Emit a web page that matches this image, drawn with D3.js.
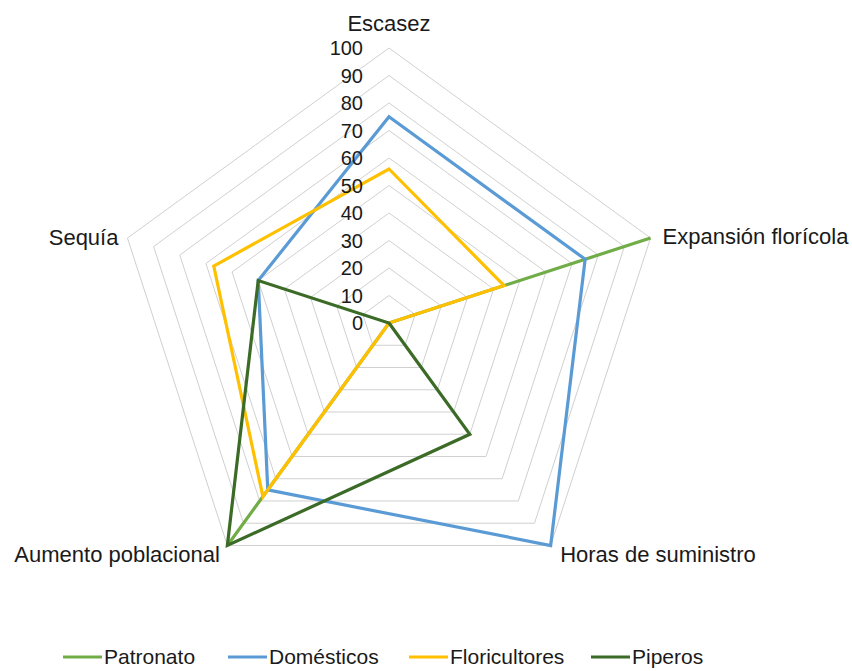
<!DOCTYPE html>
<html>
<head>
<meta charset="utf-8">
<script src="https://cdn.jsdelivr.net/npm/d3@7"></script>
<style>
  html, body { margin: 0; padding: 0; background: #fff; }
  svg { display: block; }
  text { font-family: "Liberation Sans", Arial, sans-serif; fill: #1a1a1a; }
</style>
</head>
<body>
<svg id="chart" width="852" height="671"></svg>
<script>
const categories = ["Escasez", "Expansión florícola", "Horas de suministro", "Aumento poblacional", "Sequía"];
const seriesNames = ["Patronato", "Domésticos", "Floricultores", "Piperos"];
const patronato = [0, 100, 0, 100, 0];
const domesticos = [75, 75, 100, 75, 50];
const floricultores = [56, 44, 0, 78, 67];
const piperos = [0, 0, 50, 100, 50];
const tickValues = [0, 10, 20, 30, 40, 50, 60, 70, 80, 90, 100];
const colors = ["#70AD47", "#5B9BD5", "#FFC000", "#3B6B26"];

const seriesValues = [patronato, domesticos, floricultores, piperos];

const svg = d3.select("#chart");
const cx = 389, cy = 323, R = 275;
const r = d3.scaleLinear().domain([0, 100]).range([0, R]);
const angle = d3.scaleLinear().domain([0, categories.length]).range([0, 2 * Math.PI]);
const pt = (i, v) => [cx + r(v) * Math.sin(angle(i)), cy - r(v) * Math.cos(angle(i))];

// grid rings
const gridG = svg.append("g");
tickValues.filter(t => t > 0).forEach(t => {
  gridG.append("path")
    .attr("d", d3.line()(categories.map((c, i) => pt(i, t))) + "Z")
    .attr("fill", "none")
    .attr("stroke", "#D0D0D0")
    .attr("stroke-width", 1);
});

// series
const line = d3.line();
seriesValues.forEach((vals, s) => {
  svg.append("path")
    .attr("d", line(vals.map((v, i) => pt(i, v))) + "Z")
    .attr("fill", "none")
    .attr("stroke", colors[s])
    .attr("stroke-width", 3.2)
    .attr("stroke-linejoin", "miter");
});

// tick labels
svg.append("g").selectAll("text").data(tickValues).join("text")
  .attr("x", cx - 26)
  .attr("y", d => cy - r(d))
  .attr("dy", "0.35em")
  .attr("text-anchor", "end")
  .attr("font-size", 20)
  .text(d => d);

// axis labels
const labelPos = [
  { dx: 0, dy: -25, anchor: "middle" },
  { dx: 12, dy: -2, anchor: "start" },
  { dx: 9.5, dy: 9, anchor: "start" },
  { dx: -7.5, dy: 9, anchor: "end" },
  { dx: -9, dy: -1, anchor: "end" }
];
svg.append("g").selectAll("text").data(categories).join("text")
  .attr("x", (d, i) => pt(i, 100)[0] + labelPos[i].dx)
  .attr("y", (d, i) => pt(i, 100)[1] + labelPos[i].dy)
  .attr("dy", "0.35em")
  .attr("text-anchor", (d, i) => labelPos[i].anchor)
  .attr("font-size", 22)
  .text(d => d);

// legend
const legendX = [63, 228, 409, 591];
const legend = svg.append("g");
seriesNames.forEach((name, s) => {
  const g = legend.append("g").attr("transform", `translate(${legendX[s]},657)`);
  g.append("line").attr("x1", 0).attr("x2", 39).attr("y1", 0).attr("y2", 0)
    .attr("stroke", colors[s]).attr("stroke-width", 3.2);
  g.append("text").attr("x", 41).attr("y", 0).attr("dy", "0.35em")
    .attr("font-size", 21).text(name);
});
</script>
</body>
</html>
